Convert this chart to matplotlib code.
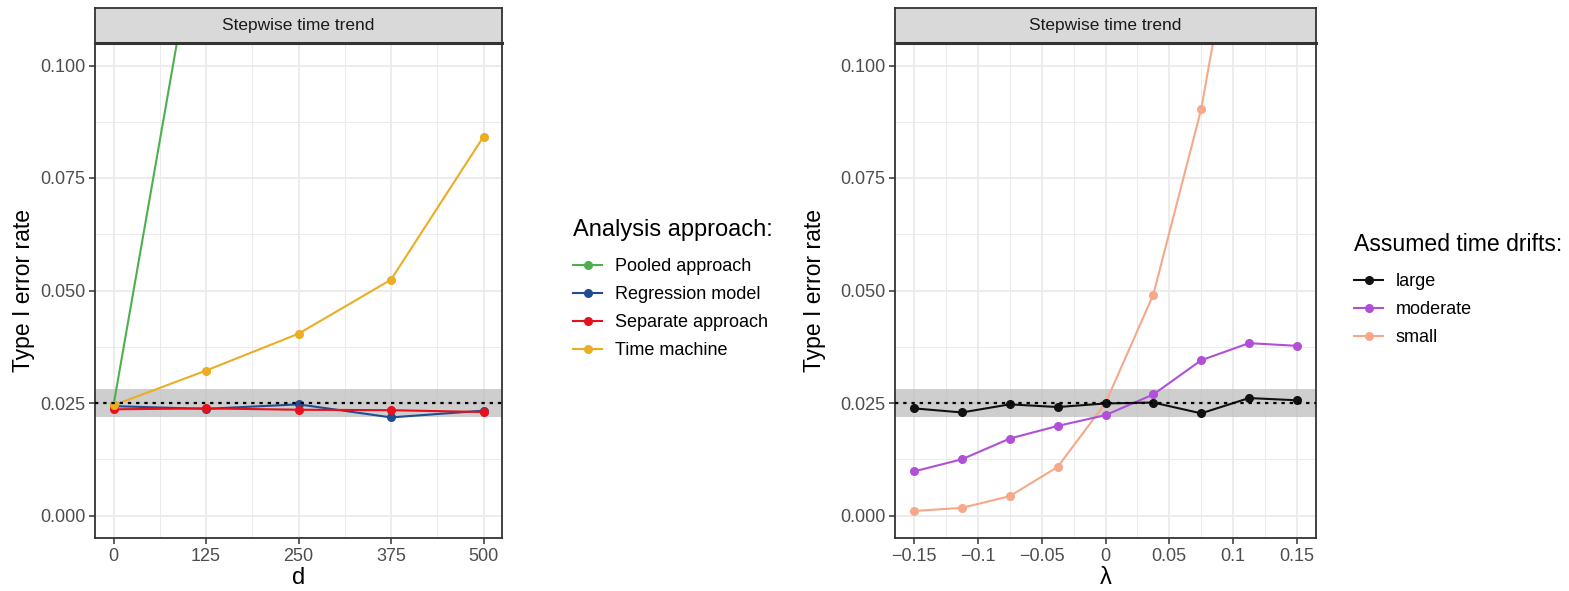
import matplotlib
matplotlib.use("Agg")
import matplotlib.pyplot as plt
from matplotlib.ticker import FixedLocator
import numpy as np

plt.rcParams['font.family'] = ['Liberation Sans', 'DejaVu Sans']

# ---------------- data ----------------
d_values = [0, 125, 250, 375, 500]
pooled = [0.0245, 0.142, 0.27, 0.41, 0.55]
regression = [0.0243, 0.0237, 0.0247, 0.0218, 0.0233]
separate = [0.0236, 0.0238, 0.0235, 0.0234, 0.0230]
time_machine = [0.0245, 0.0322, 0.0404, 0.0524, 0.0842]

lam_values = [-0.15, -0.1125, -0.075, -0.0375, 0.0, 0.0375, 0.075, 0.1125, 0.15]
large = [0.0238, 0.0229, 0.0247, 0.0241, 0.0249, 0.0251, 0.0227, 0.0261, 0.0256]
moderate = [0.0098, 0.0125, 0.0171, 0.0199, 0.0223, 0.0269, 0.0345, 0.0383, 0.0377]
small = [0.0010, 0.0017, 0.0043, 0.0108, 0.0250, 0.0491, 0.0903, 0.150, 0.21]

alpha_level = 0.025
band_low, band_high = 0.0219, 0.0281

left_series = [("Pooled approach", pooled, "#4DB04D"),
               ("Regression model", regression, "#1F4E94"),
               ("Separate approach", separate, "#E8101C"),
               ("Time machine", time_machine, "#EBAD22")]
right_series = [("large", large, "#111111"),
                ("moderate", moderate, "#B050D6"),
                ("small", small, "#F5A88A")]

left_legend_title = "Analysis approach:"
right_legend_title = "Assumed time drifts:"

y_ticks = [0.0, 0.025, 0.05, 0.075, 0.1]
y_tick_labels = ["0.000", "0.025", "0.050", "0.075", "0.100"]
d_tick_labels = ["0", "125", "250", "375", "500"]
lam_ticks = [-0.15, -0.1, -0.05, 0, 0.05, 0.1, 0.15]
lam_tick_labels = ["\u22120.15", "\u22120.1", "\u22120.05", "0", "0.05", "0.1", "0.15"]

strip_title = "Stepwise time trend"

# ---------------- figure ----------------
W, H = 1569, 591
fig = plt.figure(figsize=(W / 100, H / 100), dpi=100)

def px_axes(x0, y0, x1, y1):
    return fig.add_axes([x0 / W, 1 - y1 / H, (x1 - x0) / W, (y1 - y0) / H])

border = "#333333"
gridc = "#EBEBEB"

def style_panel(ax, xlim, xticks, xlabels, xminor, xlabel, ylab_x):
    ax.set_xlim(*xlim)
    ax.set_ylim(-0.005, 0.105)
    ax.set_xticks(xticks)
    ax.set_xticklabels(xlabels)
    ax.xaxis.set_minor_locator(FixedLocator(xminor))
    ax.set_yticks(y_ticks)
    ax.set_yticklabels(y_tick_labels)
    ax.yaxis.set_minor_locator(FixedLocator([0.0125, 0.0375, 0.0625, 0.0875]))
    ax.grid(True, which='major', color=gridc, lw=1.3, zorder=0)
    ax.grid(True, which='minor', color=gridc, lw=0.7, zorder=0)
    ax.set_axisbelow(True)
    for s in ax.spines.values():
        s.set_color(border)
        s.set_linewidth(1.3)
    ax.tick_params(which='major', length=4, width=1.1, color=border,
                   labelsize=13, labelcolor="#4D4D4D", pad=3)
    ax.tick_params(which='minor', length=0)
    ax.set_xlabel(xlabel, fontsize=17, color="black", labelpad=2)
    ax.set_ylabel("Type I error rate", fontsize=16.5, color="black")
    ax.yaxis.set_label_coords(ylab_x, 0.5)
    ax.axhspan(band_low, band_high, color="#BEBEBE", alpha=0.75, lw=0, zorder=1)
    ax.axhline(alpha_level, color="black", lw=1.6, ls=(0, (1.5, 2.2)), zorder=5)

def strip(x0, x1):
    sax = px_axes(x0, 8, x1, 43)
    sax.set_facecolor("#D9D9D9")
    sax.set_xticks([]); sax.set_yticks([])
    for s in sax.spines.values():
        s.set_color(border); s.set_linewidth(1.3)
    sax.spines['bottom'].set_linewidth(2.2)
    sax.text(0.5, 0.5, strip_title, ha='center', va='center',
             fontsize=12.5, color="#1A1A1A", transform=sax.transAxes)

# left panel
ax1 = px_axes(95, 43, 502, 538)
style_panel(ax1, (-25, 525), d_values, d_tick_labels,
            [62.5, 187.5, 312.5, 437.5], "d", (35 - 95) / 407)
for i, (name, vals, col) in enumerate(left_series):
    ax1.plot(d_values, vals, color=col, lw=1.5, marker='o', ms=5.5,
             label=name, zorder=3 + 0.1 * i)
strip(95, 502)

# right panel
ax2 = px_axes(895, 43, 1316, 538)
style_panel(ax2, (-0.165, 0.165), lam_ticks, lam_tick_labels,
            [-0.125, -0.075, -0.025, 0.025, 0.075, 0.125], "\u03bb",
            (826 - 895) / 421)
for i, (name, vals, col) in enumerate(right_series):
    ax2.plot(lam_values, vals, color=col, lw=1.5, marker='o', ms=5.5,
             label=name, zorder=3.5 - 0.1 * i)
strip(895, 1316)

# legends
leg_kw = dict(frameon=False, fontsize=13,
              handlelength=1.6, handletextpad=0.7, labelspacing=0.62,
              borderaxespad=0, alignment='left')
l1 = ax1.legend(loc='upper left', bbox_to_anchor=(566 / W, 1 - 212 / H),
                bbox_transform=fig.transFigure, title=left_legend_title,
                title_fontsize=17, **leg_kw)
l2 = ax2.legend(loc='upper left', bbox_to_anchor=(1347 / W, 1 - 226 / H),
                bbox_transform=fig.transFigure, title=right_legend_title,
                title_fontsize=16.6, **leg_kw)
for l in (l1, l2):
    l._legend_box.sep = 12

fig.savefig("out.png", dpi=100)
